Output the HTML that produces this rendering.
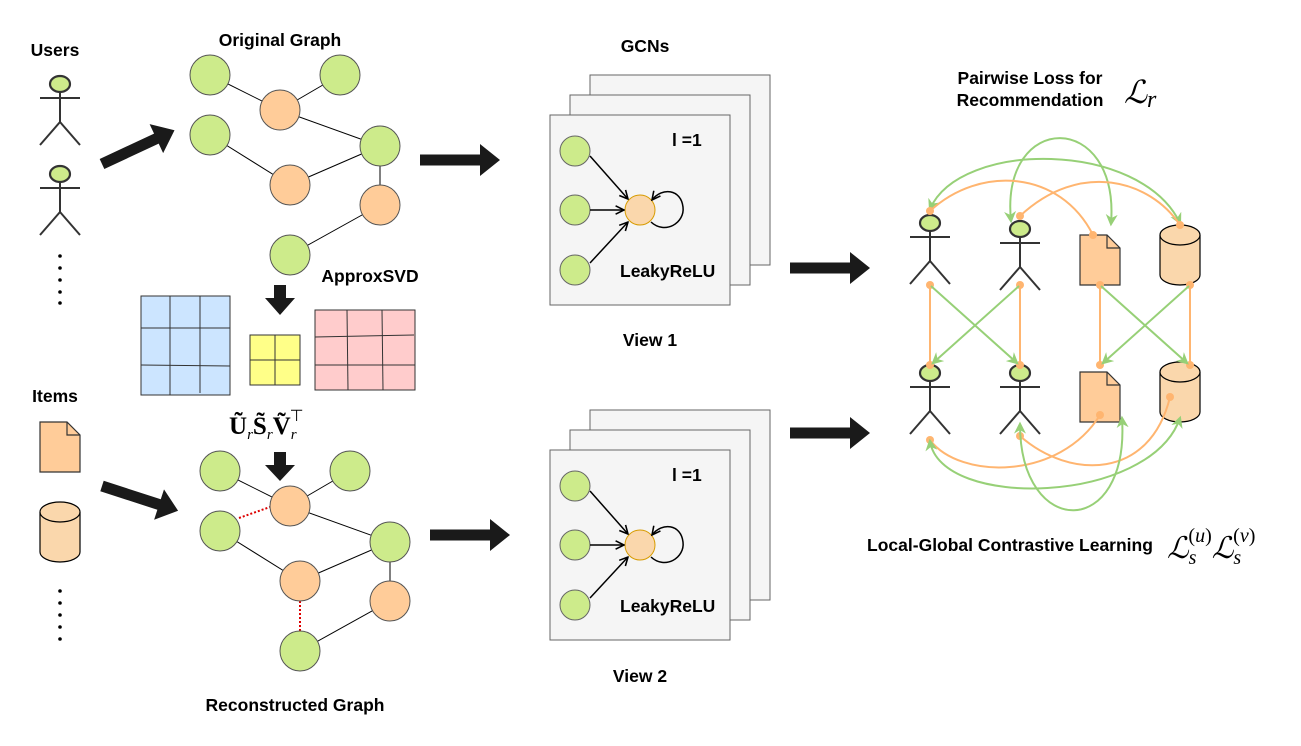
<!DOCTYPE html>
<html><head><meta charset="utf-8"><style>
html,body{margin:0;padding:0;background:#fff;}
svg{display:block;font-family:"Liberation Sans",sans-serif;}
.b{font-weight:bold;font-size:17.5px;fill:#000;}
.m{font-family:"Liberation Serif",serif;}
</style></head><body>
<svg width="1301" height="746" viewBox="0 0 1301 746" xmlns="http://www.w3.org/2000/svg">
<defs>
<marker id="ga" viewBox="0 0 10 10" refX="8" refY="5" markerWidth="6" markerHeight="6" orient="auto-start-reverse"><path d="M0,0 L10,5 L0,10 L3,5 Z" fill="#97d077"/></marker>
<marker id="ka" viewBox="0 0 10 10" refX="9" refY="5" markerWidth="7" markerHeight="7" orient="auto"><path d="M1,1 L9,5 L1,9" fill="none" stroke="#000" stroke-width="1.5"/></marker>
<marker id="od" viewBox="0 0 10 10" refX="5" refY="5" markerWidth="4" markerHeight="4"><circle cx="5" cy="5" r="5" fill="#ffb570"/></marker>
<g id="actor" stroke="#333" stroke-width="2" fill="none">
<ellipse cx="0" cy="0" rx="10" ry="8" fill="#cdeb8b" stroke-width="2.2"/>
<line x1="0" y1="8" x2="0" y2="38"/><line x1="-20" y1="14" x2="20" y2="14"/>
<line x1="0" y1="38" x2="-20" y2="61"/><line x1="0" y1="38" x2="20" y2="61"/>
</g>
<g id="doc" stroke="#333" stroke-width="1.2"><path d="M0,0 H27 L40,13 V50 H0 Z" fill="#ffcc99"/><path d="M27,0 V13 H40" fill="none"/></g>
<g id="cyl" stroke="#000" stroke-width="1.2" fill="#fad7ac"><path d="M0,10 V50 A20,10 0 0 0 40,50 V10"/><ellipse cx="20" cy="10" rx="20" ry="10"/></g>
<g id="bigarrow"><path d="M0,-5.5 H60 V-16 L80,0 L60,16 V5.5 H0 Z" fill="#1a1a1a"/></g>
<g id="panel">
<rect x="40" y="-40" width="180" height="190" fill="#f5f5f5" stroke="#666"/>
<rect x="20" y="-20" width="180" height="190" fill="#f5f5f5" stroke="#666"/>
<rect x="0" y="0" width="180" height="190" fill="#f5f5f5" stroke="#666"/>
<text x="122" y="31" class="b">l =1</text>
<text x="70" y="162" class="b">LeakyReLU</text>
<circle cx="25" cy="36" r="15" fill="#cdeb8b" stroke="#666"/>
<circle cx="25" cy="95" r="15" fill="#cdeb8b" stroke="#666"/>
<circle cx="25" cy="155" r="15" fill="#cdeb8b" stroke="#666"/>
<circle cx="90" cy="95" r="15" fill="#fad7ac" stroke="#d79b00"/>
<g stroke="#000" stroke-width="1.5" fill="none">
<line x1="40" y1="41" x2="78" y2="84" marker-end="url(#ka)"/>
<line x1="40" y1="95" x2="74" y2="95" marker-end="url(#ka)"/>
<line x1="40" y1="148" x2="78" y2="107" marker-end="url(#ka)"/>
<path d="M101,107 C115,120 135,108 133,92 C131,74 112,72 102,85" marker-end="url(#ka)"/>
</g>
</g>
</defs>

<text x="55" y="56" class="b" text-anchor="middle">Users</text>
<use href="#actor" x="60" y="84"/>
<use href="#actor" x="60" y="174"/>
<g fill="#000"><circle cx="60" cy="256" r="1.8"/><circle cx="60" cy="268" r="1.8"/><circle cx="60" cy="280" r="1.8"/><circle cx="60" cy="292" r="1.8"/><circle cx="60" cy="303" r="1.8"/></g>
<text x="55" y="402" class="b" text-anchor="middle">Items</text>
<use href="#doc" x="40" y="422"/>
<use href="#cyl" x="40" y="502"/>
<g fill="#000"><circle cx="60" cy="591" r="1.8"/><circle cx="60" cy="603" r="1.8"/><circle cx="60" cy="615" r="1.8"/><circle cx="60" cy="627" r="1.8"/><circle cx="60" cy="639" r="1.8"/></g>
<use href="#bigarrow" transform="translate(102,164) rotate(-25)"/>
<use href="#bigarrow" transform="translate(102,486) rotate(18)"/>

<text x="280" y="46" class="b" text-anchor="middle">Original Graph</text>
<g stroke="#000" stroke-width="1">
<line x1="210" y1="75" x2="280" y2="110"/><line x1="280" y1="110" x2="340" y2="75"/><line x1="280" y1="110" x2="380" y2="146"/>
<line x1="210" y1="135" x2="290" y2="185"/><line x1="290" y1="185" x2="380" y2="146"/><line x1="380" y1="146" x2="380" y2="205"/><line x1="380" y1="205" x2="290" y2="255"/>
</g>
<g stroke="#555" stroke-width="1">
<circle cx="210" cy="75" r="20" fill="#cdeb8b"/><circle cx="340" cy="75" r="20" fill="#cdeb8b"/><circle cx="210" cy="135" r="20" fill="#cdeb8b"/><circle cx="380" cy="146" r="20" fill="#cdeb8b"/><circle cx="290" cy="255" r="20" fill="#cdeb8b"/>
<circle cx="280" cy="110" r="20" fill="#ffcc99"/><circle cx="290" cy="185" r="20" fill="#ffcc99"/><circle cx="380" cy="205" r="20" fill="#ffcc99"/>
</g>
<text x="370" y="282" class="b" text-anchor="middle">ApproxSVD</text>
<path d="M274,285 H286 V298 H295 L280,315 L265,298 H274 Z" fill="#1a1a1a"/>
<g stroke="#333" stroke-width="1">
<rect x="141" y="296" width="89" height="99" fill="#cce5ff"/>
<line x1="170" y1="296" x2="170" y2="395"/><line x1="200" y1="296" x2="200" y2="393"/><line x1="141" y1="328" x2="230" y2="328"/><line x1="141" y1="365" x2="230" y2="366"/>
<rect x="250" y="335" width="50" height="50" fill="#ffff88"/>
<line x1="275" y1="335" x2="275" y2="385"/><line x1="250" y1="360" x2="300" y2="360"/>
<rect x="315" y="310" width="100" height="80" fill="#ffcccc"/>
<line x1="347" y1="310" x2="348" y2="390"/><line x1="382" y1="310" x2="383" y2="390"/><line x1="315" y1="337" x2="414" y2="335"/><line x1="315" y1="365" x2="415" y2="365"/>
</g>
<text x="229" y="434" class="m" font-size="25" font-weight="bold">Ũ<tspan font-size="15" font-style="italic" font-weight="normal" dy="5">r</tspan><tspan dy="-5">S̃</tspan><tspan font-size="15" font-style="italic" font-weight="normal" dy="5">r</tspan><tspan dy="-5">Ṽ</tspan><tspan font-size="15" font-style="italic" font-weight="normal" dy="5">r</tspan><tspan font-size="16" font-weight="normal" dx="-7" dy="-18">⊤</tspan></text>
<path d="M274,452 H286 V465 H295 L280,481 L265,465 H274 Z" fill="#1a1a1a"/>

<g stroke="#000" stroke-width="1">
<line x1="220" y1="471" x2="290" y2="506"/><line x1="290" y1="506" x2="350" y2="471"/><line x1="290" y1="506" x2="390" y2="542"/>
<line x1="220" y1="531" x2="300" y2="581"/><line x1="300" y1="581" x2="390" y2="542"/><line x1="390" y1="542" x2="390" y2="601"/><line x1="390" y1="601" x2="300" y2="651"/>
</g>
<g stroke="#d00" stroke-width="2" stroke-dasharray="2,2">
<line x1="239" y1="518" x2="270" y2="507"/><line x1="300" y1="601" x2="300" y2="631"/>
</g>
<g stroke="#555" stroke-width="1">
<circle cx="220" cy="471" r="20" fill="#cdeb8b"/><circle cx="350" cy="471" r="20" fill="#cdeb8b"/><circle cx="220" cy="531" r="20" fill="#cdeb8b"/><circle cx="390" cy="542" r="20" fill="#cdeb8b"/><circle cx="300" cy="651" r="20" fill="#cdeb8b"/>
<circle cx="290" cy="506" r="20" fill="#ffcc99"/><circle cx="300" cy="581" r="20" fill="#ffcc99"/><circle cx="390" cy="601" r="20" fill="#ffcc99"/>
</g>
<text x="295" y="711" class="b" text-anchor="middle">Reconstructed Graph</text>

<use href="#bigarrow" x="420" y="160"/>
<use href="#bigarrow" x="430" y="535"/>
<text x="645" y="52" class="b" text-anchor="middle">GCNs</text>
<use href="#panel" x="550" y="115"/>
<text x="650" y="346" class="b" text-anchor="middle">View 1</text>
<use href="#panel" x="550" y="450"/>
<text x="640" y="682" class="b" text-anchor="middle">View 2</text>
<use href="#bigarrow" x="790" y="268"/>
<use href="#bigarrow" x="790" y="433"/>

<text x="1030" y="84" class="b" text-anchor="middle">Pairwise Loss for</text>
<text x="1030" y="106" class="b" text-anchor="middle">Recommendation</text>
<text x="1124" y="103" class="m" font-size="32" font-style="italic">ℒ<tspan font-size="24" dy="4">r</tspan></text>
<text x="1010" y="551" class="b" text-anchor="middle">Local-Global Contrastive Learning</text>
<text x="1167" y="558" class="m" font-size="30" font-style="italic">ℒ<tspan font-size="20" dy="6">s</tspan><tspan font-size="20" font-style="normal" dx="-8" dy="-22">(</tspan><tspan font-size="20">u</tspan><tspan font-size="20" font-style="normal">)</tspan><tspan dy="16">ℒ</tspan><tspan font-size="20" dy="6">s</tspan><tspan font-size="20" font-style="normal" dx="-8" dy="-22">(</tspan><tspan font-size="20">v</tspan><tspan font-size="20" font-style="normal">)</tspan></text>

<use href="#actor" x="930" y="223"/>
<use href="#actor" x="1020" y="229"/>
<use href="#doc" x="1080" y="235"/>
<use href="#cyl" x="1160" y="225"/>
<use href="#actor" x="930" y="373"/>
<use href="#actor" x="1020" y="373"/>
<use href="#doc" x="1080" y="372"/>
<use href="#cyl" x="1160" y="362"/>

<g fill="none" stroke-width="2">
<g stroke="#ffb570" marker-start="url(#od)" marker-end="url(#od)">
<line x1="930" y1="285" x2="930" y2="365"/><line x1="1020" y1="285" x2="1020" y2="365"/>
<line x1="1100" y1="285" x2="1100" y2="365"/><line x1="1190" y1="285" x2="1190" y2="365"/>
</g>
<g stroke="#97d077" marker-end="url(#ga)">
<line x1="931" y1="286" x2="1017" y2="363"/><line x1="1019" y1="286" x2="933" y2="363"/>
<line x1="1101" y1="286" x2="1187" y2="363"/><line x1="1189" y1="286" x2="1103" y2="363"/>
</g>
<path d="M1180,223 C1140,140 960,140 930,209" stroke="#97d077" marker-start="url(#ga)" marker-end="url(#ga)"/>
<path d="M1011,221 C1000,110 1120,110 1111,224" stroke="#97d077" marker-start="url(#ga)" marker-end="url(#ga)"/>
<path d="M930,211 C980,165 1060,170 1093,235" stroke="#ffb570" marker-start="url(#od)" marker-end="url(#od)"/>
<path d="M1020,216 C1080,160 1150,180 1180,225" stroke="#ffb570" marker-start="url(#od)" marker-end="url(#od)"/>
<path d="M1100,415 C1060,480 960,480 930,440" stroke="#ffb570" marker-start="url(#od)" marker-end="url(#od)"/>
<path d="M1020,436 C1070,480 1150,480 1170,397" stroke="#ffb570" marker-start="url(#od)" marker-end="url(#od)"/>
<path d="M930,441 C940,510 1150,505 1180,418" stroke="#97d077" marker-start="url(#ga)" marker-end="url(#ga)"/>
<path d="M1020,424 C1020,540 1130,540 1122,418" stroke="#97d077" marker-start="url(#ga)" marker-end="url(#ga)"/>
</g>
</svg>
</body></html>
